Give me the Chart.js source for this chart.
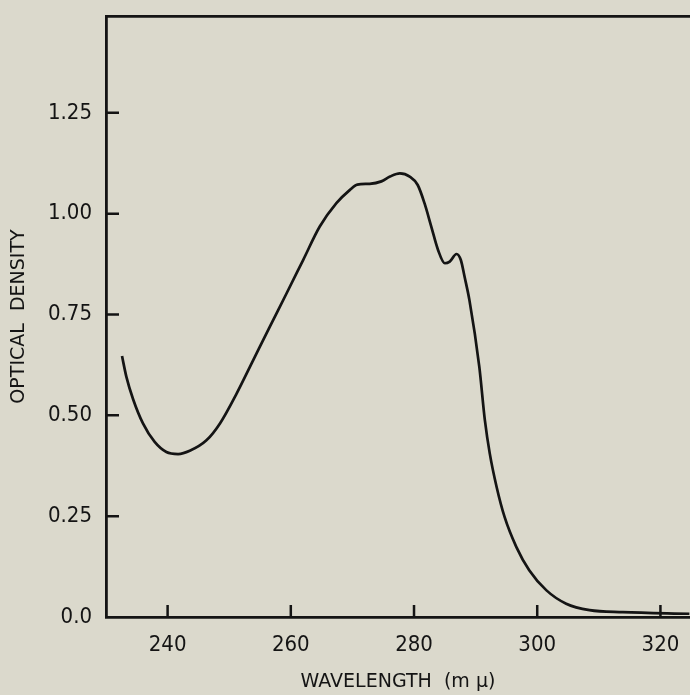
<!DOCTYPE html>
<html>
<head>
<meta charset="utf-8">
<script src="https://cdn.jsdelivr.net/npm/chart.js@4/dist/chart.umd.min.js"></script>
<style>
  html, body { margin: 0; padding: 0; background: #dbd9cc; }
  #wrap { width: 690px; height: 695px; position: relative; }
</style>
</head>
<body>
<div id="wrap"><canvas id="spectrum"></canvas></div>
<script>
// absorption spectrum
const wavelength = [232.6, 233.3, 234.4, 236.0, 237.9, 239.8, 241.7, 243.6, 246.3, 248.5,
  251.2, 253.9, 256.6, 259.3, 262.0, 264.7, 267.4, 269.6, 270.8, 272.8,
  274.7, 276.1, 277.7, 279.3, 280.6, 281.7, 282.8, 283.9, 285.0, 285.8,
  286.9, 287.6, 288.2, 289.0, 290.6, 291.5, 292.3, 293.4, 294.7, 296.6,
  298.7, 301.5, 304.7, 308.5, 313.9, 324.7];
const density = [0.647, 0.596, 0.54, 0.48, 0.434, 0.409, 0.404, 0.412, 0.438, 0.48,
  0.554, 0.637, 0.72, 0.802, 0.885, 0.968, 1.026, 1.059, 1.072, 1.074,
  1.080, 1.092, 1.100, 1.092, 1.071, 1.026, 0.968, 0.91, 0.877, 0.881,
  0.90, 0.885, 0.844, 0.785, 0.62, 0.488, 0.405, 0.323, 0.248, 0.174,
  0.116, 0.066, 0.033, 0.017, 0.012, 0.008];

const xTicks = [240, 260, 280, 300, 320];
const yTicks = [0, 0.25, 0.5, 0.75, 1.0, 1.25];
const yLabels = ['0.0', '0.25', '0.50', '0.75', '1.00', '1.25'];

const ink = '#141414';
const tickFont = { family: '"DejaVu Sans Condensed", "DejaVu Sans", sans-serif', size: 22 };
const titleFont = { family: '"DejaVu Sans", sans-serif', size: 19 };

// tick marks point into the plot, as on the original
const innerTicks = {
  id: 'innerTicks',
  afterDraw(chart) {
    const c = chart.ctx, a = chart.chartArea;
    const xs = chart.scales.x, ys = chart.scales.y;
    c.save();
    c.strokeStyle = ink;
    c.lineWidth = 2.5;
    c.beginPath();
    xTicks.forEach(v => {
      const px = xs.getPixelForValue(v);
      c.moveTo(px, a.bottom);
      c.lineTo(px, a.bottom - 12);
    });
    yTicks.slice(1).forEach(v => {
      const py = ys.getPixelForValue(v);
      c.moveTo(a.left, py);
      c.lineTo(a.left + 13, py);
    });
    c.stroke();
    c.restore();
  }
};

new Chart(document.getElementById('spectrum'), {
  type: 'line',
  data: {
    datasets: [{
      data: wavelength.map((w, i) => ({x: w, y: density[i]})),
      borderColor: ink,
      borderWidth: 2.7,
      pointRadius: 0,
      cubicInterpolationMode: 'monotone',
      fill: false
    }]
  },
  options: {
    responsive: true,
    maintainAspectRatio: false,
    animation: false,
    layout: { padding: 0 },
    plugins: { legend: { display: false }, tooltip: { enabled: false } },
    scales: {
      x: {
        type: 'linear',
        min: 230, max: 324.8,
        afterBuildTicks: s => { s.ticks = xTicks.map(v => ({value: v})); },
        afterFit: s => { s.height = 78; s.paddingLeft = 0; s.paddingRight = 0; },
        grid: { display: false, drawTicks: false },
        border: { color: ink, width: 2.8 },
        ticks: { color: ink, padding: 15, maxRotation: 0, font: tickFont },
        title: {
          display: true, text: 'WAVELENGTH  (m μ)', color: ink,
          font: titleFont, padding: { top: 0, bottom: 2 }
        }
      },
      xTop: {
        type: 'linear', position: 'top',
        min: 230, max: 324.8,
        afterFit: s => { s.height = 16; s.paddingLeft = 0; s.paddingRight = 0; },
        grid: { display: false, drawTicks: false },
        border: { color: ink, width: 2.8 },
        ticks: { display: false }
      },
      y: {
        min: 0, max: 1.49,
        afterBuildTicks: s => { s.ticks = yTicks.map(v => ({value: v})); },
        afterFit: s => { s.width = 106; s.paddingTop = 0; s.paddingBottom = 0; },
        grid: { display: false, drawTicks: false },
        border: { color: ink, width: 2.8 },
        ticks: {
          color: ink, padding: 14, font: tickFont,
          callback: v => yLabels[yTicks.indexOf(v)]
        },
        title: {
          display: true, text: 'OPTICAL  DENSITY', color: ink,
          font: titleFont, padding: { top: 8, bottom: 0 }
        }
      }
    }
  },
  plugins: [innerTicks]
});
</script>
</body>
</html>
